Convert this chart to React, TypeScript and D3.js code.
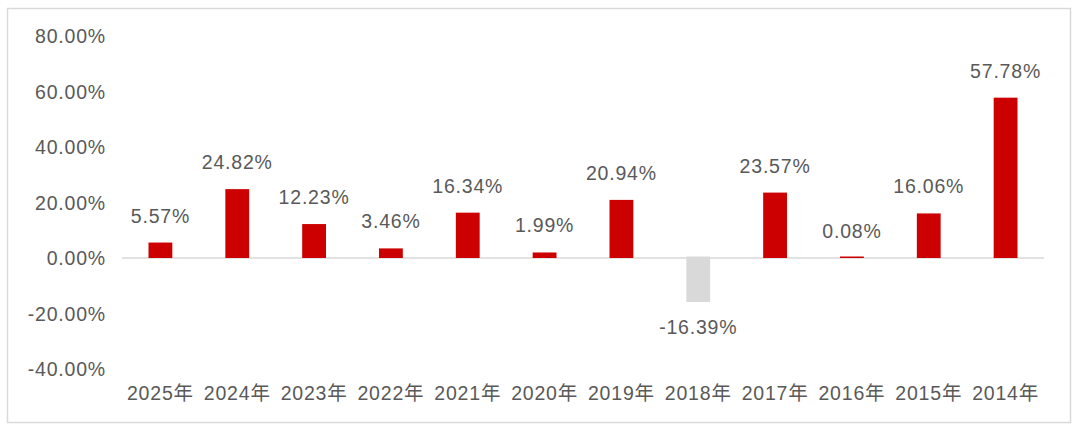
import React from 'react';
import * as d3 from 'd3';

const years = ['2025年', '2024年', '2023年', '2022年', '2021年', '2020年', '2019年', '2018年', '2017年', '2016年', '2015年', '2014年'];
const returns = [5.57, 24.82, 12.23, 3.46, 16.34, 1.99, 20.94, -16.39, 23.57, 0.08, 16.06, 57.78];
const yTicks = [80, 60, 40, 20, 0, -20, -40];

const width = 1080;
const height = 435;
const font = '"Liberation Sans", "Noto Sans CJK SC", sans-serif';
const textColor = '#595959';
const fontSize = 19.5;
const spacing = 0.8;

// hyphen instead of d3's unicode minus, like the source
const pct = (v: number) => d3.format('.2f')(v).replace('\u2212', '-') + '%';

const App: React.FC = () => {
  const x = d3.scaleBand<string>()
    .domain(years)
    .range([122, 1044])
    .paddingInner(0.69)
    .paddingOuter(0.345);

  const y = d3.scaleLinear()
    .domain([-40, 80])
    .range([369, 36]);

  return (
    <svg width={width} height={height} style={{ position: 'absolute', left: 0, top: 0 }}>
      <rect x={7.5} y={8.5} width={1063} height={414} fill="#fff" stroke="#d9d9d9" strokeWidth={1.5} />

      {/* y axis labels */}
      {yTicks.map(t => (
        <text key={t} x={106} y={y(t)} dy="0.36em" textAnchor="end"
          fontFamily={font} fontSize={fontSize} letterSpacing={spacing} fill={textColor}>
          {pct(t)}
        </text>
      ))}

      {/* zero line */}
      <line x1={122} x2={1044} y1={y(0)} y2={y(0)} stroke="#d9d9d9" strokeWidth={1.5} />

      {/* bars */}
      {returns.map((v, i) => (
        <rect key={years[i]}
          x={x(years[i])}
          y={Math.min(y(v), y(0) - 1.5)}
          width={x.bandwidth()}
          height={Math.max(1.5, Math.abs(y(v) - y(0)))}
          fill={v < 0 ? '#d9d9d9' : '#cc0000'} />
      ))}

      {/* value labels */}
      {returns.map((v, i) => (
        <text key={'l' + years[i]}
          x={(x(years[i]) ?? 0) + x.bandwidth() / 2}
          y={v < 0 ? y(v) + 31 : y(v) - 20}
          textAnchor="middle" fontFamily={font} fontSize={fontSize} letterSpacing={spacing} fill={textColor}>
          {pct(v)}
        </text>
      ))}

      {/* category labels */}
      {years.map(c => (
        <text key={'c' + c}
          x={(x(c) ?? 0) + x.bandwidth() / 2}
          y={393} dy="0.36em"
          textAnchor="middle" fontFamily={font} fontSize={fontSize} letterSpacing={spacing} fill={textColor}>
          {c}
        </text>
      ))}
    </svg>
  );
};

export default App;
